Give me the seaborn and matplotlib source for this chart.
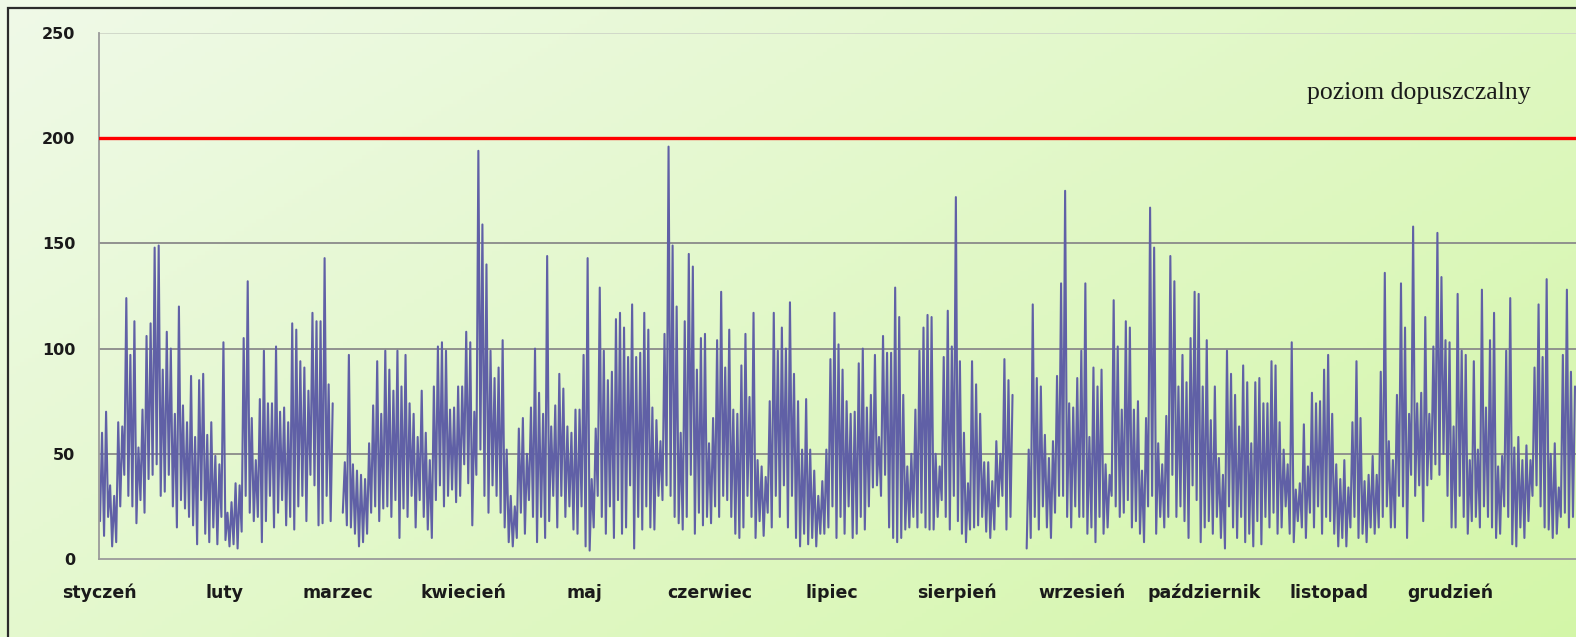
import numpy as np
import pandas as pd
import matplotlib.pyplot as plt
import seaborn as sns
from matplotlib.patches import Rectangle

# Month axis and limit line
month_labels = ['styczeń', 'luty', 'marzec', 'kwiecień', 'maj', 'czerwiec',
                'lipiec', 'sierpień', 'wrzesień', 'październik', 'listopad', 'grudzień']
month_days = [31, 28, 31, 30, 31, 30, 31, 31, 30, 31, 30, 31]
y_ticks = [0, 50, 100, 150, 200, 250]
limit_value = 200
limit_label = 'poziom dopuszczalny'

# Daily maxima (None = no data)
daily_max = [
    # styczeń
    60, 70, 35, 30, 65, 63, 124, 97, 113, 53, 71, 106, 112, 148, 149, 90, 108, 100, 69, 120,
    73, 65, 87, 58, 85, 88, 59, 65, 49, 45, 103,
    # luty
    22, 27, 36, 35, 105, 132, 67, 47, 76, 99, 74, 74, 101, 70, 72, 65, 112, 109, 94, 91,
    80, 117, 113, 113, 143, 83, 74, None,
    # marzec
    None, 46, 97, 45, 42, 40, 38, 55, 73, 94, 69, 99, 90, 80, 99, 82, 97, 74, 69, 58,
    80, 60, 47, 82, 101, 103, 99, 71, 72, 82, 82,
    # kwiecień
    108, 103, 70, 194, 159, 140, 99, 86, 91, 104, 52, 30, 25, 62, 67, 50, 72, 100, 79, 69,
    144, 63, 73, 88, 81, 63, 60, 71, 71, 97,
    # maj
    143, 38, 62, 129, 99, 85, 89, 114, 117, 110, 96, 121, 96, 98, 117, 109, 72, 66, 56, 107,
    196, 149, 120, 60, 113, 145, 139, 90, 105, 107, 55,
    # czerwiec
    67, 104, 127, 91, 109, 71, 69, 92, 107, 77, 117, 47, 44, 39, 75, 117, 99, 110, 100, 122,
    88, 75, 52, 76, 52, 42, 30, 37, 52, 95,
    # lipiec
    117, 102, 90, 75, 69, 70, 93, 100, 72, 78, 97, 58, 106, 98, 98, 129, 115, 78, 44, 50,
    71, 99, 110, 116, 115, 50, 44, 96, 118, 101, 172,
    # sierpień
    94, 60, 36, 94, 83, 69, 46, 46, 37, 56, 50, 95, 85, 78, None, None, None, 52, 121, 86,
    82, 59, 48, 56, 87, 131, 175, 74, 72, 86, 99,
    # wrzesień
    131, 58, 91, 82, 90, 45, 40, 123, 101, 71, 113, 110, 71, 75, 42, 67, 167, 148, 55, 45,
    68, 144, 132, 82, 97, 84, 105, 127, 126, 82,
    # październik
    104, 66, 82, 48, 40, 99, 88, 78, 63, 92, 84, 55, 84, 86, 74, 74, 94, 92, 65, 52,
    45, 103, 33, 36, 64, 44, 79, 74, 75, 90, 97,
    # listopad
    69, 45, 38, 47, 34, 65, 94, 67, 37, 40, 49, 40, 89, 136, 56, 47, 78, 131, 110, 69,
    158, 74, 79, 115, 69, 101, 155, 134, 104, 103,
    # grudzień
    63, 126, 99, 97, 47, 94, 52, 128, 72, 104, 117, 44, 49, 99, 124, 53, 58, 47, 54, 47,
    91, 121, 96, 133, 50, 55, 34, 97, 128, 89, 82,
]

# Daily minima
daily_min = [
    18, 11, 20, 6, 8, 25, 40, 30, 25, 17, 28, 22, 38, 40, 45, 30, 32, 40, 25, 15,
    28, 24, 20, 16, 7, 28, 12, 8, 15, 7, 20,
    9, 6, 7, 5, 13, 30, 22, 18, 20, 8, 18, 30, 15, 22, 28, 16, 20, 14, 25, 30,
    18, 40, 35, 16, 17, 30, 18, None,
    None, 22, 16, 15, 12, 6, 8, 12, 22, 25, 18, 24, 25, 20, 28, 10, 24, 20, 30, 15,
    28, 20, 14, 10, 28, 35, 25, 30, 33, 27, 30,
    45, 36, 16, 40, 52, 30, 22, 35, 30, 22, 15, 8, 6, 10, 22, 12, 28, 20, 8, 20,
    10, 18, 30, 15, 30, 20, 25, 14, 12, 25,
    6, 4, 15, 30, 20, 12, 25, 10, 28, 12, 15, 35, 5, 20, 14, 25, 15, 14, 30, 28,
    35, 30, 20, 17, 14, 20, 40, 12, 22, 16, 20,
    17, 25, 20, 30, 28, 20, 12, 10, 15, 30, 20, 10, 18, 11, 22, 15, 30, 20, 35, 15,
    30, 10, 6, 12, 7, 10, 6, 12, 12, 15,
    25, 10, 20, 12, 25, 10, 12, 20, 14, 25, 34, 35, 30, 40, 15, 10, 8, 10, 14, 15,
    20, 15, 22, 15, 14, 14, 20, 28, 20, 14, 30,
    18, 12, 8, 14, 15, 16, 20, 13, 10, 14, 25, 30, 14, 20, None, None, None, 5, 10, 20,
    14, 25, 15, 10, 22, 30, 30, 20, 15, 25, 20,
    20, 12, 15, 8, 20, 12, 15, 30, 25, 20, 22, 28, 15, 18, 12, 8, 25, 30, 12, 20,
    15, 20, 40, 20, 25, 18, 10, 35, 28, 8,
    15, 18, 12, 20, 10, 5, 25, 15, 10, 20, 8, 12, 6, 18, 7, 20, 15, 22, 12, 15,
    25, 12, 8, 18, 15, 10, 22, 15, 25, 12, 20,
    18, 12, 6, 10, 6, 15, 20, 10, 12, 8, 15, 12, 15, 20, 25, 15, 15, 30, 25, 10,
    40, 30, 35, 18, 35, 38, 45, 40, 50, 30,
    15, 15, 30, 20, 12, 18, 20, 15, 25, 20, 15, 10, 12, 25, 20, 7, 6, 15, 10, 18,
    30, 35, 25, 15, 14, 10, 12, 20, 22, 15, 20,
]

# zigzag low -> high within each day, new segment after a gap
rows = []
seg = 0
for d, (hi, lo) in enumerate(zip(daily_max, daily_min)):
    if hi is None:
        seg += 1
        continue
    rows.append((d + 0.25, lo, seg))
    rows.append((d + 0.75, hi, seg))
df = pd.DataFrame(rows, columns=['day', 'conc', 'seg'])

month_starts = np.cumsum([0] + month_days[:-1])
n_days = sum(month_days)

sns.set_style('white')
plt.rcParams['font.family'] = ['DejaVu Sans']

W, H = 1576, 637
fig = plt.figure(figsize=(W / 100, H / 100), dpi=100)

# background gradient + outer frame
bg = fig.add_axes([0, 0, 1, 1], zorder=0)
gx, gy = np.meshgrid(np.linspace(0, 1, 400), np.linspace(0, 1, 160))
t = 0.6 * gx + 0.4 * gy
c0 = np.array([0.94, 0.98, 0.91])
c1 = np.array([0.83, 0.965, 0.66])
bg.imshow(c0 + (c1 - c0) * t[..., None], aspect='auto', extent=[0, 1, 0, 1], origin='upper')
bg.add_patch(Rectangle((8 / W, -0.1), 1.2, 1 - 8 / H + 0.1, fill=False,
                       ec='#2b2b2b', lw=1.6, transform=bg.transAxes))
bg.set_xlim(0, 1)
bg.set_ylim(0, 1)
bg.axis('off')

ax = fig.add_axes([99 / W, 78 / H, (W - 99) / W, 526 / H], zorder=1)
ax.patch.set_alpha(0)

for v in y_ticks[1:-1]:
    ax.axhline(v, color='#8a8a8a', lw=1.3, zorder=1)
ax.axhline(y_ticks[-1], color='#cfd6c8', lw=1.3, zorder=1)

sns.lineplot(data=df, x='day', y='conc', units='seg', estimator=None, sort=False,
             color='#6060a6', lw=1.5, legend=False, ax=ax, zorder=2)

ax.axhline(limit_value, color='#ff0000', lw=2.4, zorder=3)
ax.text(298.5, 221.5, limit_label, fontfamily='Liberation Serif', fontsize=18.5,
        color='#1a1a1a', ha='left', va='center')

ax.set_xlim(0, n_days)
ax.set_ylim(0, 250)
ax.set_xticks(month_starts)
ax.set_xticklabels(month_labels)
ax.set_yticks(y_ticks)
ax.set_xlabel('')
ax.set_ylabel('')
ax.tick_params(axis='both', direction='out', length=5, width=1.2, color='#9a9a9a',
               labelcolor='#1a1a1a')
ax.tick_params(axis='y', pad=12, labelsize=11.5)
ax.tick_params(axis='x', pad=13, labelsize=12.5)
for lab in ax.get_xticklabels() + ax.get_yticklabels():
    lab.set_fontweight('bold')

sns.despine(ax=ax, top=True, right=True)
for s in ['left', 'bottom']:
    ax.spines[s].set_color('#9a9a9a')
    ax.spines[s].set_linewidth(1.3)

fig.savefig('out.png', dpi=100)
